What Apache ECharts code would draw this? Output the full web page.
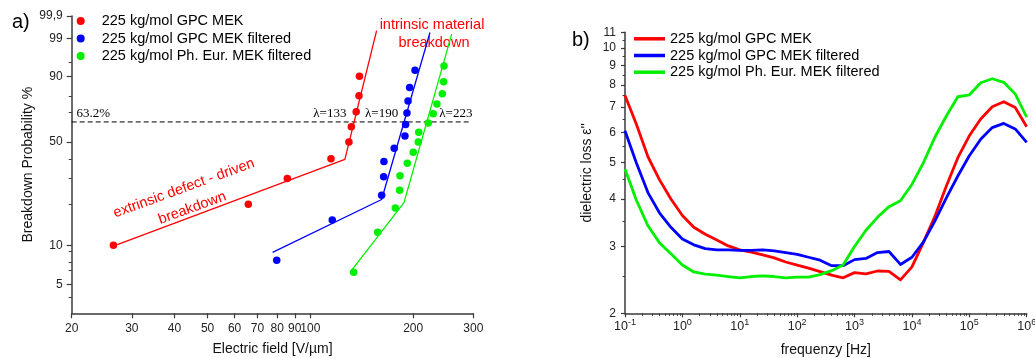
<!DOCTYPE html>
<html><head><meta charset="utf-8">
<script src="https://cdn.jsdelivr.net/npm/echarts@6/dist/echarts.min.js"></script>
<style>html,body{margin:0;padding:0;background:#fff}#c{width:1035px;height:358px}</style>
</head><body><div id="c"></div>
<script>
// ---------- DATA ----------
const seriesNames = ['225 kg/mol GPC MEK', '225 kg/mol GPC MEK filtered', '225 kg/mol Ph. Eur. MEK filtered'];

// panel a) Weibull plot
const redField   = [26.5, 65.8, 85.6, 114.9, 129.7, 131.8, 136.2, 138.8, 139.2];
const redProb    = [10, 20, 30, 40, 50, 60, 70, 80, 90];
const blueField  = [79.7, 115.9, 161.7, 163.9, 164.2, 176.0, 189.2, 190.1, 191.8, 193.2, 195.3, 202.5];
const blueProb   = [7.7, 15.4, 23.1, 30.8, 38.5, 46.2, 53.8, 61.5, 69.2, 76.9, 84.6, 92.3];
const greenField = [133.9, 157.4, 177.3, 182.6, 183.0, 192.2, 200.1, 207.0, 207.6, 221.4, 229.0, 234.8, 243.4, 245.6, 246.2];
const greenProb  = [6.25, 12.5, 18.75, 25, 31.25, 37.5, 43.75, 50, 56.25, 62.5, 68.75, 75, 81.25, 87.5, 93.75];

const redFitField   = [27.2, 126.2, 156.3];
const redFitProb    = [10.1, 39.6, 99.5];
const blueFitField  = [77.5, 161.7, 224];
const blueFitProb   = [8.85, 21.55, 99.4];
const greenFitField = [131.5, 188, 259.3];
const greenFitProb  = [6.37, 20.5, 99.3];

const refField = [20, 293];
const refProb  = [63.2, 63.2];

const fieldTicks = [20, 30, 40, 50, 60, 70, 80, 90, 100, 200, 300];
const probTicks  = [5, 10, 50, 90, 99, 99.9];
const probLabels = ['5', '10', '50', '90', '99', '99,9'];
const probMinorTicks = [4, 6.5, 7.5, 9, 20, 30, 40, 70, 80, 95];

// panel b) dielectric loss
const freq = [0.1, 0.158, 0.251, 0.398, 0.631, 1, 1.58, 2.51, 3.98, 6.31,
  10, 15.8, 25.1, 39.8, 63.1, 100, 158, 251, 398, 631,
  1000, 1580, 2510, 3980, 6310, 10000, 15800, 25100, 39800, 63100,
  1e5, 1.58e5, 2.51e5, 3.98e5, 6.31e5, 1e6];
const lossRed = [7.5, 6.3, 5.17, 4.5, 4.0, 3.62, 3.37, 3.23, 3.12, 3.01,
  2.94, 2.90, 2.85, 2.80, 2.73, 2.68, 2.63, 2.575, 2.52, 2.48,
  2.56, 2.54, 2.585, 2.58, 2.45, 2.65, 3.07, 3.6, 4.33, 5.14,
  5.87, 6.5, 7.0, 7.22, 6.97, 6.2];
const lossBlue = [6.05, 4.98, 4.16, 3.68, 3.37, 3.14, 3.03, 2.96, 2.94, 2.94,
  2.93, 2.93, 2.94, 2.92, 2.89, 2.86, 2.81, 2.76, 2.67, 2.67,
  2.77, 2.79, 2.89, 2.91, 2.69, 2.81, 3.08, 3.5, 4.03, 4.6,
  5.2, 5.75, 6.17, 6.33, 6.12, 5.64];
const lossGreen = [4.8, 3.97, 3.4, 3.07, 2.87, 2.68, 2.57, 2.535, 2.52, 2.50,
  2.48, 2.50, 2.51, 2.50, 2.48, 2.49, 2.49, 2.53, 2.59, 2.68,
  3.0, 3.31, 3.58, 3.82, 3.96, 4.37, 4.98, 5.82, 6.62, 7.44,
  7.52, 8.1, 8.3, 8.12, 7.57, 6.57];

const freqDecades = [-1, 0, 1, 2, 3, 4, 5, 6];
const lossTicks = [2, 3, 4, 5, 6, 7, 8, 9, 10, 11];
const lossMinorTicks = [2.5, 3.5, 4.5, 5.5, 6.5, 7.5, 8.5, 9.5, 10.5];

// ---------- BUILD ----------
const W = p => Math.log(-Math.log(1 - p / 100));
const L = v => Math.log10(v);
const pair = (xs, ps) => xs.map((x, i) => [L(x), W(ps[i])]);
const fpair = (ys) => freq.map((f, i) => [L(f), L(ys[i])]);
const freqMinor = [];
for (let d = -1; d < 6; d++) for (let k = 2; k <= 9; k++) freqMinor.push(d + Math.log10(k));

const FONT = '"Liberation Sans", Arial, sans-serif';
const AX = '#3a3a3a';
const cRed = '#ff0000', cBlue = '#0000ff', cGreen = '#00f000';
const colors = [cRed, cBlue, cGreen];

const baseAxis = {
  type: 'value', splitLine: {show: false},
  axisLine: {show: true, onZero: false, lineStyle: {color: AX, width: 1.5}},
  axisTick: {show: true, inside: false, length: 5, lineStyle: {color: AX, width: 1.2}},
  axisLabel: {color: '#222', fontSize: 12, fontFamily: FONT},
  nameTextStyle: {color: '#111', fontSize: 14, fontFamily: FONT}
};
const minorAxis = (extra) => Object.assign({
  type: 'value', splitLine: {show: false},
  axisLine: {show: false, onZero: false}, axisLabel: {show: false}
}, extra);

const option = {
  animation: false,
  backgroundColor: '#fff',
  textStyle: {fontFamily: FONT},
  grid: [
    {left: 71.7, right: 561.7, top: 16, bottom: 44.7, containLabel: false, outerBoundsMode: 'none'},
    {left: 625, right: 8.3, top: 32.3, bottom: 44.7, containLabel: false, outerBoundsMode: 'none'}
  ],
  xAxis: [
    Object.assign({}, baseAxis, {
      gridIndex: 0, position: 'bottom', min: L(20), max: L(300),
      axisTick: Object.assign({}, baseAxis.axisTick, {customValues: fieldTicks.map(L)}),
      axisLabel: Object.assign({}, baseAxis.axisLabel, {customValues: fieldTicks.map(L), margin: 9,
        formatter: v => String(Math.round(Math.pow(10, v)))}),
      name: 'Electric field [V/µm]', nameLocation: 'middle', nameGap: 29
    }),
    Object.assign({}, baseAxis, {
      gridIndex: 1, position: 'bottom', min: -1, max: 6,
      axisTick: Object.assign({}, baseAxis.axisTick, {length: 4, customValues: freqDecades}),
      axisLabel: Object.assign({}, baseAxis.axisLabel, {customValues: freqDecades, margin: 5,
        formatter: v => '{b|10}{s|' + Math.round(v) + '}',
        rich: {
          b: {fontSize: 12.5, fontFamily: FONT, color: '#222'},
          s: {fontSize: 9, padding: [0, 0, 8, 0], fontFamily: FONT, color: '#222'}
        }}),
      name: 'frequenzy [Hz]', nameLocation: 'middle', nameGap: 30
    }),
    minorAxis({gridIndex: 1, position: 'bottom', min: -1, max: 6,
      axisTick: {show: true, inside: false, length: 2.5, customValues: freqMinor, lineStyle: {color: AX, width: 1}}})
  ],
  yAxis: [
    Object.assign({}, baseAxis, {
      gridIndex: 0, position: 'left', min: W(3), max: W(99.9),
      axisTick: Object.assign({}, baseAxis.axisTick, {customValues: probTicks.map(W)}),
      axisLabel: Object.assign({}, baseAxis.axisLabel, {customValues: probTicks.map(W), margin: 9,
        formatter: v => {
          let best = 0, bd = 1e9;
          probTicks.forEach((p, i) => { const d = Math.abs(W(p) - v); if (d < bd) { bd = d; best = i; } });
          return probLabels[best];
        }}),
      name: 'Breakdown Probability %', nameLocation: 'middle', nameGap: 34
    }),
    minorAxis({gridIndex: 0, position: 'left', min: W(3), max: W(99.9),
      axisTick: {show: true, inside: false, length: 3, customValues: probMinorTicks.map(W), lineStyle: {color: AX, width: 1}}}),
    Object.assign({}, baseAxis, {
      gridIndex: 1, position: 'left', min: L(2), max: L(11),
      axisTick: Object.assign({}, baseAxis.axisTick, {length: 4, customValues: lossTicks.map(L)}),
      axisLabel: Object.assign({}, baseAxis.axisLabel, {customValues: lossTicks.map(L), margin: 9,
        formatter: v => String(Math.round(Math.pow(10, v)))}),
      name: 'dielectric loss ε\'\'', nameLocation: 'middle', nameGap: 31
    }),
    minorAxis({gridIndex: 1, position: 'left', min: L(2), max: L(11),
      axisTick: {show: true, inside: false, length: 2.5, customValues: lossMinorTicks.map(L), lineStyle: {color: AX, width: 1}}})
  ],
  legend: [
    {orient: 'vertical', left: 76.7, top: 13.5, padding: 0, itemWidth: 32, itemHeight: 8, itemGap: 2.5,
      textStyle: {fontSize: 14.5, color: '#000', fontFamily: FONT},
      selectedMode: false,
      data: seriesNames.map(n => ({name: n, icon: 'circle'}))},
    {orient: 'vertical', left: 634, top: 31.3, padding: 0, itemWidth: 31, itemHeight: 3.5, itemGap: 1.7,
      textStyle: {fontSize: 14.5, color: '#000', fontFamily: FONT},
      selectedMode: false,
      data: seriesNames.map(n => ({name: n, icon: 'rect'}))}
  ],
  series: [
    // fit lines
    ...[[redFitField, redFitProb], [blueFitField, blueFitProb], [greenFitField, greenFitProb]].map((d, i) => ({
      type: 'line', name: 'fit' + i, xAxisIndex: 0, yAxisIndex: 0, data: pair(d[0], d[1]),
      symbol: 'none', lineStyle: {color: colors[i], width: 1.3}, z: 2, silent: true
    })),
    {type: 'line', name: 'ref', xAxisIndex: 0, yAxisIndex: 0, data: pair(refField, refProb),
      symbol: 'none', lineStyle: {color: '#000', width: 1, type: [5, 3]}, z: 1, silent: true},
    // points
    ...[[redField, redProb], [blueField, blueProb], [greenField, greenProb]].map((d, i) => ({
      type: 'scatter', name: seriesNames[i], xAxisIndex: 0, yAxisIndex: 0, data: pair(d[0], d[1]),
      symbol: 'circle', symbolSize: 7.5, itemStyle: {color: colors[i], opacity: 1}, z: 3
    })),
    // dielectric loss curves
    ...[lossRed, lossBlue, lossGreen].map((d, i) => ({
      type: 'line', name: seriesNames[i], xAxisIndex: 1, yAxisIndex: 2, data: fpair(d),
      symbol: 'none', smooth: false, itemStyle: {color: colors[i]},
      lineStyle: {color: colors[i], width: 2.8, join: 'round'}, z: 3
    }))
  ],
  graphic: [
    {type: 'text', x: 12, y: 12, style: {text: 'a)', font: '20px ' + FONT, fill: '#000'}},
    {type: 'text', x: 572, y: 30, style: {text: 'b)', font: '20px ' + FONT, fill: '#000'}},
    {type: 'text', x: 76.5, y: 120.5, style: {text: '63.2%', font: '13px "Liberation Serif", serif', fill: '#000', verticalAlign: 'bottom'}},
    {type: 'text', x: 313.3, y: 120.5, style: {text: 'λ=133', font: '13px "Liberation Serif", serif', fill: '#000', verticalAlign: 'bottom'}},
    {type: 'text', x: 365, y: 120.5, style: {text: 'λ=190', font: '13px "Liberation Serif", serif', fill: '#000', verticalAlign: 'bottom'}},
    {type: 'text', x: 439.3, y: 120.5, style: {text: 'λ=223', font: '13px "Liberation Serif", serif', fill: '#000', verticalAlign: 'bottom'}},
    {type: 'text', x: 432, y: 25, style: {text: 'intrinsic material', font: '14.5px ' + FONT, fill: cRed, align: 'center', verticalAlign: 'middle'}},
    {type: 'text', x: 434, y: 43.3, style: {text: 'breakdown', font: '14.5px ' + FONT, fill: cRed, align: 'center', verticalAlign: 'middle'}},
    {type: 'text', x: 184, y: 188.3, rotation: 20 * Math.PI / 180, style: {text: 'extrinsic defect - driven', font: '14.5px ' + FONT, fill: cRed, align: 'center', verticalAlign: 'middle'}},
    {type: 'text', x: 192.3, y: 208, rotation: 20 * Math.PI / 180, style: {text: 'breakdown', font: '14.5px ' + FONT, fill: cRed, align: 'center', verticalAlign: 'middle'}}
  ]
};

const chart = echarts.init(document.getElementById('c'), null, {renderer: 'canvas'});
chart.setOption(option);
</script>
</body></html>
